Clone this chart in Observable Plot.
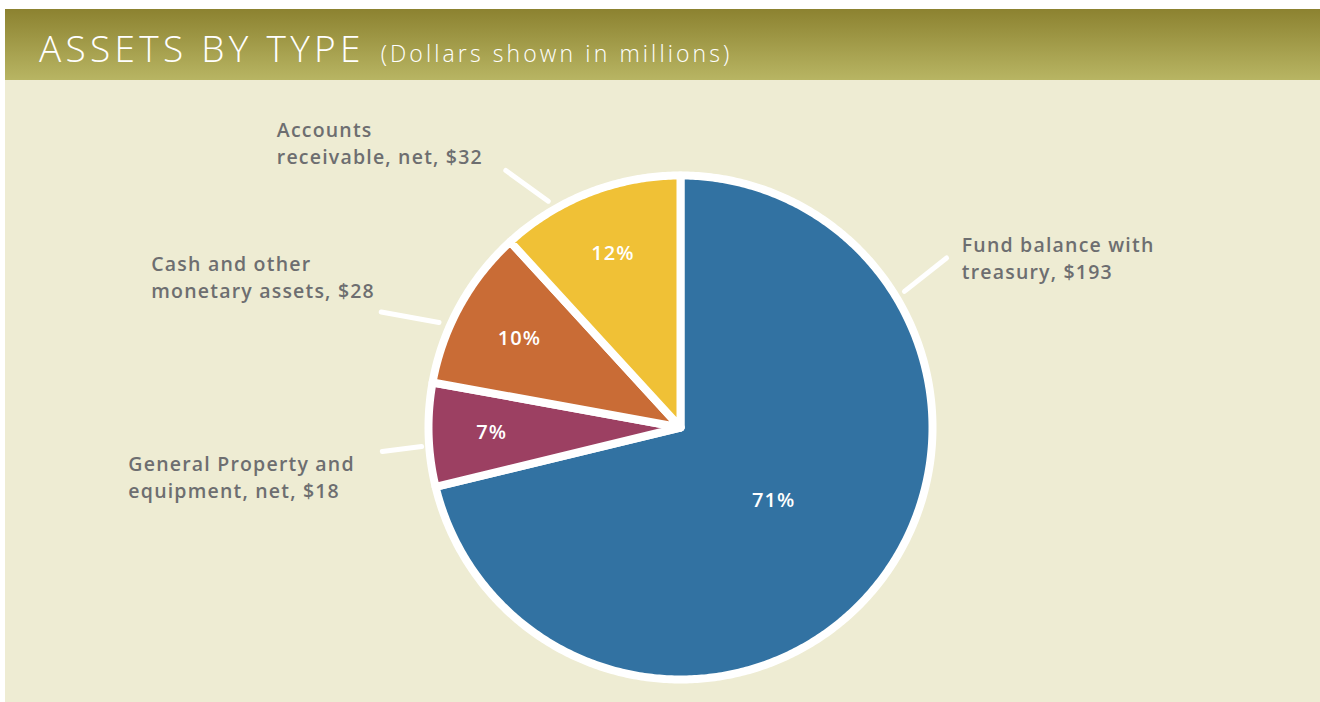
<!DOCTYPE html>
<html>
<head>
<meta charset="utf-8">
<script src="https://cdn.jsdelivr.net/npm/d3@7"></script>
<script src="https://cdn.jsdelivr.net/npm/@observablehq/plot@0.6"></script>
<style>
  html, body { margin: 0; padding: 0; background: #ffffff; }
  #panel { position: absolute; left: 5px; top: 9px; width: 1315px; height: 693px; background: #eeecd3; }
  #titlebar { height: 71px; background: linear-gradient(to bottom, #8c8230, #b8b563); color: #fff;
    font-family: "Open Sans", sans-serif; font-weight: 300; white-space: nowrap; }
  #titlebar .main { position: absolute; left: 34px; top: 13px; font-size: 37px; letter-spacing: 4.3px; }
  #titlebar .sub { font-size: 23px; letter-spacing: 3.1px; margin-left: 2px; }
  #chart { position: absolute; left: 0; top: 71px; }
  #chart svg text.lbl { letter-spacing: 1.2px; }
  #chart svg text.pct { letter-spacing: 1px; }
</style>
</head>
<body>
<div id="panel">
  <div id="titlebar"><div class="main">ASSETS BY TYPE <span class="sub">(Dollars shown in millions)</span></div></div>
  <div id="chart"></div>
</div>
<script>
// ---- data ----
const categories = ["Fund balance with treasury", "General Property and equipment, net", "Cash and other monetary assets", "Accounts receivable, net"];
const values = [193, 18, 28, 32];
const colors = ["#3272a2", "#9c4062", "#c96c36", "#f0c136"];
const labels = ["Fund balance with\ntreasury, $193", "General Property and\nequipment, net, $18", "Cash and other\nmonetary assets, $28", "Accounts\nreceivable, net, $32"];
// label placement (unit-circle coordinates)
const labelX = [1.116, -2.191, -2.10, -1.602];
const labelY = [0.677, -0.191, 0.602, 1.133];
// leader lines: angle (deg clockwise from top) and radius at inner / outer end
const leaderA0 = [58.7, 265.8, 293.5, 329.7];
const leaderR0 = [1.04, 1.03, 1.045, 1.04];
const leaderA1 = [57.5, 265.4, 291.1, 325.8];
const leaderR1 = [1.252, 1.187, 1.273, 1.233];
const pctRadius = [0.47, 0.75, 0.73, 0.74];

const total = d3.sum(values);
const pie = d3.pie().sort(null).value(d => d)(values);

function pt(angle, r) { return [r * Math.sin(angle), r * Math.cos(angle)]; }
const rad = d => d * Math.PI / 180;

const slices = pie.map((p, i) => {
  const pts = [[0, 0]];
  const n = Math.max(2, Math.ceil((p.endAngle - p.startAngle) / 0.01));
  for (let k = 0; k <= n; k++) {
    const a = p.startAngle + (p.endAngle - p.startAngle) * k / n;
    pts.push(pt(a, 1));
  }
  return pts.map(([x, y]) => ({x, y, cat: categories[i]}));
});

const pctData = pie.map((p, i) => {
  const a = (p.startAngle + p.endAngle) / 2;
  const [x, y] = pt(a, pctRadius[i]);
  return {x, y, text: Math.round(values[i] / total * 100) + "%"};
});

const leaders = categories.map((c, i) => {
  const [x1, y1] = pt(rad(leaderA0[i]), leaderR0[i]);
  const [x2, y2] = pt(rad(leaderA1[i]), leaderR1[i]);
  return {x1, y1, x2, y2};
});

const labelData = categories.map((c, i) => ({x: labelX[i], y: labelY[i], text: labels[i]}));

const W = 1315, H = 622, R = 252, cx = 675, cy = 347;

const plot = Plot.plot({
  width: W, height: H,
  margin: 0,
  style: {background: "transparent", overflow: "visible"},
  x: {domain: [-cx / R, (W - cx) / R], range: [0, W], axis: null},
  y: {domain: [(cy - H) / R, cy / R], range: [H, 0], axis: null},
  marks: [
    ...slices.map((s, i) => Plot.line(s, {x: "x", y: "y", curve: "linear-closed", fill: colors[i], stroke: "#ffffff", strokeWidth: 8, strokeLinejoin: "round"})),
    Plot.link(leaders, {x1: "x1", y1: "y1", x2: "x2", y2: "y2", stroke: "#ffffff", strokeWidth: 5, strokeLinecap: "round"}),
    Plot.text(pctData, {x: "x", y: "y", text: "text", fill: "#ffffff", fontSize: 20, fontFamily: "Open Sans", fontWeight: 600}),
    Plot.text(labelData, {x: "x", y: "y", text: "text", textAnchor: "start", lineAnchor: "middle", lineHeight: 1.37, fill: "#6d6e70", fontSize: 19.5, fontFamily: "Open Sans", fontWeight: 600})
  ]
});
plot.querySelectorAll("g[aria-label='text']").forEach((g, i) => g.querySelectorAll("text").forEach(t => t.setAttribute("class", i === 0 ? "pct" : "lbl")));
document.getElementById("chart").appendChild(plot);
</script>
</body>
</html>
